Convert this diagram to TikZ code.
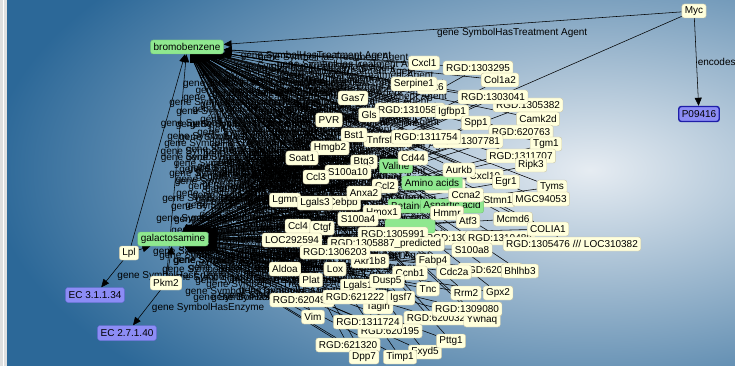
\documentclass[tikz,border=0pt]{standalone}
\usepackage{fontspec}
\newfontfamily\netfont{Liberation Sans}
\usetikzlibrary{arrows.meta}
\pgfdeclarelayer{back}
\pgfdeclarelayer{wires}
\pgfsetlayers{back,wires,main}
\definecolor{genefill}{HTML}{FFFFDC}
\definecolor{geneline}{HTML}{C8C4A8}
\definecolor{chemfill}{HTML}{8FE88F}
\definecolor{chemline}{HTML}{74C474}
\definecolor{ecfill}{HTML}{8C8CF5}
\definecolor{ecline}{HTML}{6A6AD8}
\definecolor{protline}{HTML}{1E1EA8}
\definecolor{bgdark}{HTML}{2C6898}
\definecolor{bglight}{HTML}{E6ECF2}
\tikzset{
    gene/.style = {rectangle, rounded corners=2.5pt, draw=geneline, fill=genefill, inner xsep=3pt, inner ysep=0pt, minimum height=14pt, font=\netfont\fontsize{10}{11}\selectfont},
    chem/.style = {gene, draw=chemline, fill=chemfill},
    enzyme/.style = {gene, draw=ecline, fill=ecfill, minimum height=15pt},
    protein/.style = {gene, draw=protline, line width=1.4pt, fill=ecfill, minimum height=15pt},
    edgen/.style = {-{Triangle[length=8pt,width=7pt]}, line width=0.55pt, black},
    elabel/.style = {font=\netfont\fontsize{10}{11}\selectfont, inner sep=1pt, text=black}
}

\begin{document}
\begin{tikzpicture}[x=1pt, y=-1pt]
  \useasboundingbox (0,0) rectangle (735,366);
  \begin{pgfonlayer}{back}
    \begin{scope}
      \clip (0,0) rectangle (735,366);
      \fill[bgdark] (0,0) rectangle (735,366);
      \shade[inner color=bglight, outer color=bgdark] (590,170) ellipse [x radius=600, y radius=300];
      \fill[gray!25] (0,0) rectangle (7,366);
      \draw[white, line width=1pt] (3,0) -- (3,366);
    \end{scope}
  \end{pgfonlayer}

  % chemicals
  \node (bromo) at (187,47) [chem] {bromobenzene};
  \node (galac) at (173,239) [chem] {galactosamine};

  % genes, back to front
  \node (cdk6) at (432,87) [gene] {Cdk6};
  \node (tnfrsf) at (388,140) [gene] {Tnfrsf12a};
  \node (cebpb) at (343,203) [gene] {Cebpb};
  \node (lgalsa) at (358,286) [gene] {Lgals1};
  \node (r620497) at (302,300) [gene] {RGD:620497};
  \node (cxcl10) at (485,176) [gene] {Cxcl10};
  \node (stmn1) at (498,200) [gene] {Stmn1};
  \node (s100a6) at (445,186) [gene] {S100a6};
  \node (r1310585) at (410,110) [gene] {RGD:1310585};
  \node (r620610) at (490,270) [gene] {RGD:620610};
  \node (r1306600) at (458,238) [gene] {RGD:1306600};
  \node (r1310488) at (500,238) [gene] {RGD:1310488};
  \node (valine) at (396,166) [chem] {Valine};
  \node (amino) at (432,183) [chem] {Amino acids};
  \node (betaine) at (408,206) [chem] {Betaine};
  \node (aspart) at (452,206) [chem] {Aspartic acid};
  \node (chemx) at (410,226) [chem, minimum width=50pt] {};

  \node (cxcl1) at (424,63) [gene] {Cxcl1};
  \node (r1303295) at (478,68) [gene] {RGD:1303295};
  \node (col1a2) at (500,80) [gene] {Col1a2};
  \node (serpine1) at (414,84) [gene] {Serpine1};
  \node (r1305382) at (528,105) [gene] {RGD:1305382};
  \node (r1303041) at (493,97) [gene] {RGD:1303041};
  \node (gas7) at (353,98) [gene] {Gas7};
  \node (gls) at (369,115) [gene] {Gls};
  \node (pvr) at (329,120) [gene] {PVR};
  \node (igfbp1) at (452,112) [gene] {Igfbp1};
  \node (spp1) at (476,123) [gene] {Spp1};
  \node (camk2d) at (538,119) [gene] {Camk2d};
  \node (r620763) at (521,132) [gene] {RGD:620763};
  \node (r1307781) at (468,141) [gene] {RGD:1307781};
  \node (r1311754) at (426,137) [gene] {RGD:1311754};
  \node (bst1) at (354,135) [gene] {Bst1};
  \node (hmgb2) at (330,148) [gene] {Hmgb2};
  \node (tgm1) at (546,144) [gene] {Tgm1};
  \node (r1311707) at (521,156) [gene] {RGD:1311707};
  \node (ripk3) at (531,165) [gene] {Ripk3};
  \node (soat1) at (302,158) [gene] {Soat1};
  \node (btg3) at (364,162) [gene] {Btg3};
  \node (cd44) at (413,158) [gene] {Cd44};
  \node (aurkb) at (459,170) [gene] {Aurkb};
  \node (s100a10) at (348,172) [gene] {S100a10};
  \node (ccl3) at (316,177) [gene] {Ccl3};
  \node (egr1) at (506,182) [gene] {Egr1};
  \node (tyms) at (552,187) [gene] {Tyms};
  \node (ccl2) at (385,186) [gene] {Ccl2};
  \node (anxa2) at (364,193) [gene] {Anxa2};
  \node (ccna2) at (466,195) [gene] {Ccna2};
  \node (mgc) at (541,199) [gene] {MGC94053};
  \node (lgmn) at (285,200) [gene] {Lgmn};
  \node (lgals3) at (315,203) [gene] {Lgals3};
  \node (hmox1) at (382,212) [gene] {Hmox1};
  \node (hmmr) at (447,213) [gene] {Hmmr};
  \node (atf3) at (468,221) [gene] {Atf3};
  \node (s100a4) at (358,219) [gene] {S100a4};
  \node (mcmd6) at (513,219) [gene] {Mcmd6};
  \node (colia1) at (548,229) [gene] {COLIA1};
  \node (ccl4) at (298,226) [gene] {Ccl4};
  \node (ctgf) at (322,228) [gene] {Ctgf};
  \node (r1305991) at (393,234) [gene] {RGD:1305991};
  \node (loc292594) at (292,240) [gene] {LOC292594};
  \node (r1305476) at (572,244) [gene] {RGD:1305476 /// LOC310382};
  \node (r1305887) at (386,244) [gene] {RGD:1305887\_predicted};
  \node (s100a8) at (472,250) [gene] {S100a8};
  \node (akr1b8) at (370,261) [gene] {Akr1b8};
  \node (r1306203) at (335,252) [gene] {RGD:1306203};
  \node (fabp4) at (433,261) [gene] {Fabp4};
  \node (aldoa) at (285,269) [gene] {Aldoa};
  \node (lox) at (335,269) [gene] {Lox};
  \node (cdc2a) at (454,272) [gene] {Cdc2a};
  \node (ccnb1) at (410,273) [gene] {Ccnb1};
  \node (bhlhb3) at (520,271) [gene] {Bhlhb3};
  \node (plat) at (311,280) [gene] {Plat};
  \node (dusp5) at (387,281) [gene] {Dusp5};
  \node (tnc) at (428,289) [gene] {Tnc};
  \node (rrm2) at (466,293) [gene] {Rrm2};
  \node (gpx2) at (498,293) [gene] {Gpx2};
  \node (tagln) at (378,307) [gene] {Tagln};
  \node (r621222) at (355,297) [gene] {RGD:621222};
  \node (igsf7) at (401,298) [gene] {Igsf7};
  \node (vim) at (313,317) [gene] {Vim};
  \node (r620032) at (436,318) [gene] {RGD:620032};
  \node (ywhaq) at (482,320) [gene] {Ywhaq};
  \node (r1309080) at (467,309) [gene] {RGD:1309080};
  \node (r620195) at (390,331) [gene] {RGD:620195};
  \node (r1311724) at (368,322) [gene] {RGD:1311724};
  \node (fxyd5) at (425,352) [gene] {Fxyd5};
  \node (pttg1) at (451,341) [gene] {Pttg1};
  \node (r621320) at (348,345) [gene] {RGD:621320};
  \node (dpp7) at (364,357) [gene] {Dpp7};
  \node (timp1) at (400,357) [gene] {Timp1};

  % left and right ends
  \node (lpl) at (129,253) [gene] {Lpl};
  \node (pkm2) at (166,283) [gene] {Pkm2};
  \node (ec1) at (95,295) [enzyme] {EC 3.1.1.34};
  \node (ec2) at (127,333) [enzyme] {EC 2.7.1.40};
  \node (myc) at (694,11) [gene] {Myc};
  \node (p09416) at (699,114) [protein] {P09416};

  \begin{pgfonlayer}{wires}
    \foreach \g in {cdk6,tnfrsf,cebpb,lgalsa,r620497,cxcl10,stmn1,s100a6,r1310585,r620610,r1306600,r1310488,
        cxcl1,r1303295,col1a2,serpine1,r1305382,r1303041,gas7,gls,pvr,igfbp1,spp1,camk2d,r620763,r1307781,
        r1311754,bst1,hmgb2,tgm1,r1311707,ripk3,soat1,btg3,cd44,aurkb,s100a10,ccl3,egr1,tyms,ccl2,anxa2,
        ccna2,mgc,lgmn,lgals3,hmox1,hmmr,atf3,s100a4,mcmd6,colia1,ccl4,ctgf,r1305991,loc292594,r1305476,
        r1305887,s100a8,akr1b8,r1306203,fabp4,aldoa,lox,cdc2a,ccnb1,bhlhb3,plat,dusp5,tnc,rrm2,gpx2,tagln,
        r621222,igsf7,vim,r620032,ywhaq,r1309080,r620195,r1311724,fxyd5,pttg1,r621320,dpp7,timp1} {
      \draw[edgen] (\g) -- node[elabel] {gene SymbolHasTreatment Agent} (bromo);
      \draw[edgen] (\g) -- node[elabel] {gene SymbolHasTreatment Agent} (galac);
    }
    \draw[edgen] (myc) -- node[elabel, pos=0.37, below=3pt] {gene SymbolHasTreatment Agent} (bromo);
    \draw[edgen] (myc) -- (galac);
    \draw[edgen] (myc) -- node[elabel, anchor=west, inner sep=0pt, xshift=1pt] {encodes} (p09416);
    \draw[edgen] (lpl) -- node[elabel, pos=0.49, anchor=west, xshift=2pt] {gene SymbolHasTreatment Agent} (bromo);
    \draw[edgen] (pkm2) -- node[elabel, pos=0.48, anchor=west, xshift=2pt] {gene SymbolHasTreatment Agent} (bromo);
    \draw[edgen] (lpl) -- (galac);
    \node[elabel, anchor=west] at (152,252) {gene SymbolHasTreatment Agent};
    \draw[edgen] (pkm2) -- node[elabel, anchor=west, xshift=3pt] {gene SymbolHasTreatment Agent} (galac);
    \draw[edgen] (lpl) -- node[elabel, anchor=west, xshift=4pt, yshift=-2pt] {gene SymbolHasEnzyme} (ec1);
    \draw[edgen] (pkm2) -- node[elabel, anchor=west, xshift=4pt] {gene SymbolHasEnzyme} (ec2);
  \end{pgfonlayer}
\end{tikzpicture}
\end{document}
